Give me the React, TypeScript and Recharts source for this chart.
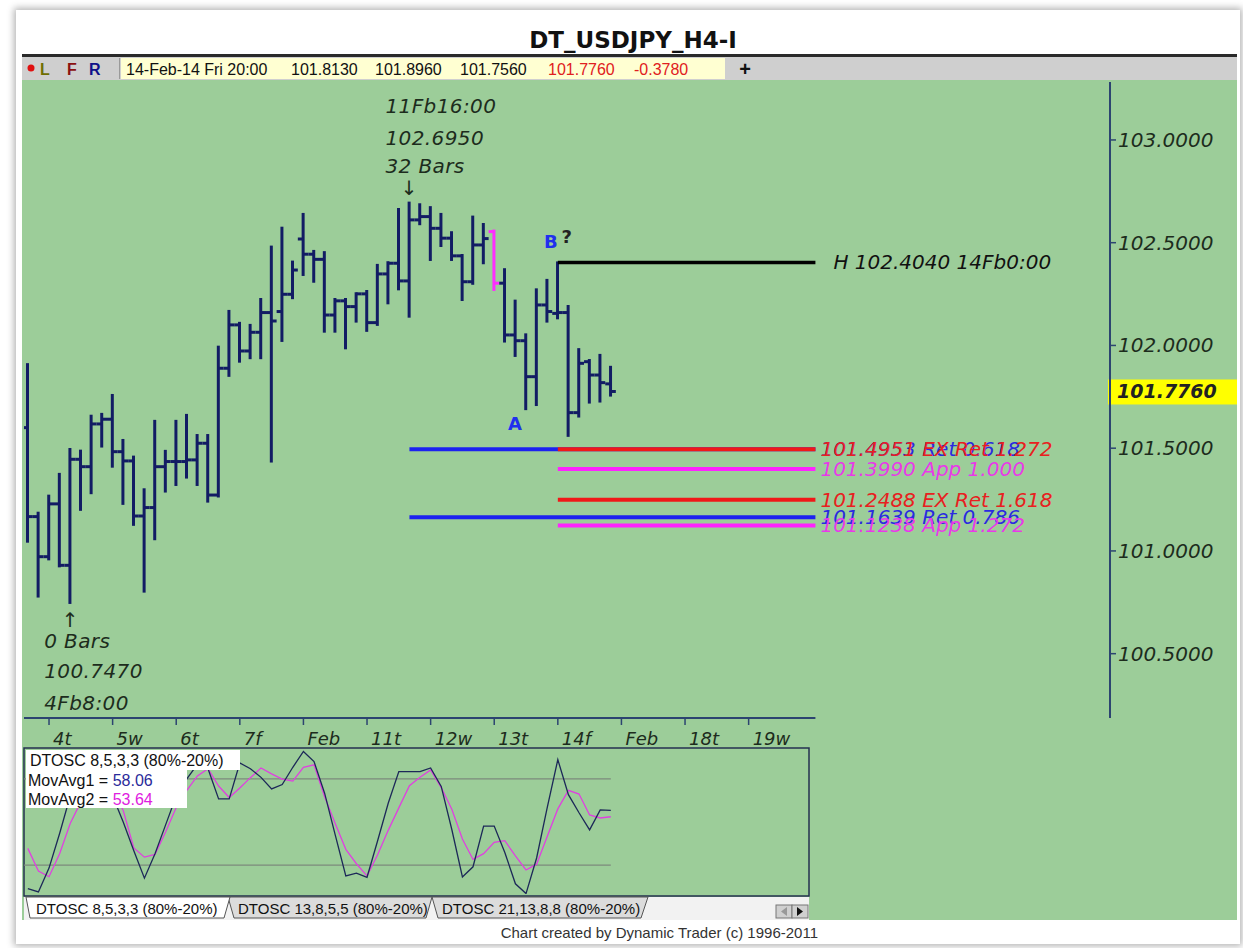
import {
	Bar,
	ComposedChart,
	Line,
	ReferenceDot,
	ReferenceLine,
	XAxis,
	YAxis,
} from 'recharts'

// 4H bars, 3-Feb 16:00 .. 14-Feb 20:00
const opens = [
	101.6, 101.167, 100.972, 101.229, 100.93, 101.446, 101.41, 101.618, 101.641, 101.483,
	101.438, 101.17, 101.211, 101.41, 101.435, 101.435, 101.443, 101.524, 101.272, 101.889,
	102.1, 101.973, 102.064, 102.16, 102.165, 102.249, 102.518, 102.444, 102.419, 102.148,
	102.217, 102.189, 102.251, 102.111, 102.348, 102.4, 102.314, 102.611, 102.627, 102.57,
	102.522, 102.436, 102.31, 102.489, 102.554, 102.303, 102.051, 102.023, 101.848, 102.197,
	102.156, 102.16, 101.673, 101.921, 101.856, 101.813,
]
const highs = [
	101.909, 101.186, 101.269, 101.375, 101.496, 101.488, 101.658, 101.667, 101.759, 101.54,
	101.459, 101.3, 101.633, 101.487, 101.633, 101.662, 101.564, 101.564, 101.994, 102.168,
	102.11, 102.1, 102.226, 102.481, 102.573, 102.408, 102.64, 102.46, 102.454, 102.226,
	102.226, 102.254, 102.265, 102.392, 102.405, 102.664, 102.695, 102.687, 102.673, 102.64,
	102.551, 102.44, 102.627, 102.591, 102.559, 102.371, 102.218, 102.054, 102.273, 102.319,
	102.404, 102.192, 101.982, 101.929, 101.954, 101.896,
]
const lows = [
	101.045, 100.778, 100.959, 100.925, 100.747, 101.2, 101.281, 101.508, 101.41, 101.229,
	101.127, 100.802, 101.057, 101.289, 101.321, 101.357, 101.321, 101.24, 101.265, 101.852,
	101.921, 101.938, 101.938, 101.435, 102.022, 102.23, 102.343, 102.31, 102.067, 102.067,
	101.986, 102.116, 102.071, 102.1, 102.205, 102.273, 102.14, 102.59, 102.416, 102.484,
	102.416, 102.221, 102.3, 102.4, 102.27, 102.019, 101.949, 101.69, 101.71, 102.116,
	102.132, 101.56, 101.654, 101.722, 101.727, 101.756,
]
const closes = [
	101.167, 100.972, 101.229, 100.93, 101.446, 101.41, 101.618, 101.641, 101.483, 101.438,
	101.17, 101.211, 101.41, 101.435, 101.435, 101.443, 101.524, 101.272, 101.889, 102.1,
	101.973, 102.064, 102.16, 102.119, 102.249, 102.367, 102.444, 102.419, 102.148, 102.217,
	102.189, 102.251, 102.111, 102.348, 102.4, 102.314, 102.611, 102.627, 102.57, 102.522,
	102.436, 102.31, 102.489, 102.52, 102.303, 102.051, 102.023, 101.848, 102.197, 102.165,
	102.16, 101.673, 101.913, 101.856, 101.819, 101.776,
]
const highlightBar = 44

// DTOSC 8,5,3,3
const oscFast = [
	3.8, 1.4, 18, 42, 68, 84, 93, 88, 68, 50, 30, 11, 28, 48, 68, 80, 90, 87, 66, 66,
	91, 87, 81, 73, 76, 88, 99, 92, 70, 41, 12.5, 14.5, 11.6, 37, 63, 85, 85, 85, 87.5, 74.7,
	44.8, 11.9, 18.9, 47.2, 47.2, 28.8, 7.1, 0.3, 25, 60, 93.3, 69, 56.4, 44.5, 58.4, 58.06,
]
const oscSlow = [
	31.7, 16, 12, 28, 49, 64, 78, 86, 72, 58, 32, 25.6, 27.5, 43, 60, 72, 82, 87, 75, 67,
	73.6, 80.8, 87.5, 83.4, 79.8, 78.4, 87.9, 89.7, 67.5, 49, 31, 21, 12.6, 27.3, 44.2, 59.8, 75.2, 81.1, 86.1, 73.9,
	58.8, 38.2, 24, 28, 35.9, 37, 26.5, 16.7, 20.7, 40, 59.1, 72, 69.4, 54.9, 52.8, 53.64,
]

const dayTicks = [2, 8, 14, 20, 26, 32, 38, 44, 50, 56, 62, 68]
const dayLabels = ['4t', '5w', '6t', '7f', 'Feb', '11t', '12w', '13t', '14f', 'Feb', '18t', '19w']
const priceTicks = [100.5, 101, 101.5, 102, 102.5, 103]

const levelPrices = [101.4953, 101.4951, 101.399, 101.2488, 101.1639, 101.1238, 102.404]
const levelStarts = [36, 50, 50, 50, 36, 50, 50]
const levelKinds = ['ret', 'ex', 'app', 'ex', 'ret', 'app', 'high']
const levelLabels = [
	'101.4953 Ret 0.618',
	'101.4951 EX Ret 1.272',
	'101.3990 App 1.000',
	'101.2488 EX Ret 1.618',
	'101.1639 Ret 0.786',
	'101.1238 App 1.272',
	'H 102.4040 14Fb0:00',
]
const lastPrice = 101.776
const projectionEnd = 74.3

const X_MIN = -0.36
const X_MAX = 102.09
const Y_MIN = 100.187
const Y_MAX = 103.282

const GREEN = '#9ccd99'
const NAVY = '#121c64'
const HAND = '"DejaVu Sans", sans-serif'
const UI = '"Liberation Sans", Arial, sans-serif'
const INK = '#1d2c1d'

const kindStyle: Record<string, { line: string; text: string; gap: number }> = {
	ret: { line: '#1c22f0', text: '#2a2ae0', gap: 5 },
	ex: { line: '#f01818', text: '#e82020', gap: 5 },
	app: { line: '#ff22ff', text: '#e83ae8', gap: 5 },
	high: { line: '#000000', text: '#111111', gap: 18 },
}

const barData = opens.map((o, i) => ({
	i,
	open: o,
	high: highs[i],
	low: lows[i],
	close: closes[i],
	range: [lows[i], highs[i]],
}))

const oscData = oscFast.map((v, i) => ({ i, fast: v, slow: oscSlow[i] }))

function OhlcBar(props: any) {
	const { x, y, width, height, payload, index } = props
	if (x == null || !payload) return null
	const top = Math.min(y, y + height)
	const h = Math.abs(height)
	const cx = x + width / 2
	const span = payload.high - payload.low || 1
	const yo = top + ((payload.high - payload.open) / span) * h
	const yc = top + ((payload.high - payload.close) / span) * h
	const color = index === highlightBar ? '#ff2cff' : NAVY
	return (
		<g stroke={color} strokeWidth={3}>
			<line x1={cx} x2={cx} y1={top - 1} y2={top + h + 1} />
			<line x1={cx - 5.3} x2={cx} y1={yo} y2={yo} />
			<line x1={cx} x2={cx + 5.3} y1={yc} y2={yc} />
		</g>
	)
}

function DayTick(props: any) {
	const { x, y, payload } = props
	const k = dayTicks.indexOf(payload.value)
	return (
		<text x={x + 4} y={y + 20} fontFamily={HAND} fontStyle="italic" fontSize={18} fill={INK}>
			{dayLabels[k]}
		</text>
	)
}

function PriceTick(props: any) {
	const { x, y, payload } = props
	return (
		<text x={x} y={y + 7} fontFamily={HAND} fontStyle="italic" fontSize={20} fill={INK}>
			{payload.value.toFixed(4)}
		</text>
	)
}

function levelLabel(k: number) {
	const st = kindStyle[levelKinds[k]]
	return (p: any) => {
		const vb = p.viewBox
		if (!vb) return null
		return (
			<text
				x={vb.x + vb.width + st.gap}
				y={vb.y + 7}
				fontFamily={HAND}
				fontStyle="italic"
				fontSize={20}
				fill={st.text}
			>
				{levelLabels[k]}
			</text>
		)
	}
}

function PriceBadge(p: any) {
	const vb = p.viewBox
	if (!vb) return null
	const x0 = vb.x + vb.width - 2
	return (
		<g>
			<rect x={x0} y={vb.y - 12} width={129} height={25} fill="#ffff00" />
			<text x={x0 + 9} y={vb.y + 7} fontFamily={HAND} fontStyle="italic" fontWeight={700} fontSize={19} fill="#222">
				{lastPrice.toFixed(4)}
			</text>
		</g>
	)
}

function HighNote(p: any) {
	const { cx, cy } = p
	return (
		<g fontFamily={HAND} fontStyle="italic" fontSize={20} fill={INK} letterSpacing={0.4}>
			<text x={cx - 24} y={cy - 90}>11Fb16:00</text>
			<text x={cx - 24} y={cy - 58}>{highs[36].toFixed(4)}</text>
			<text x={cx - 24} y={cy - 30}>32 Bars</text>
			<text x={cx} y={cy - 8} textAnchor="middle" fontStyle="normal" fontSize={20}>
				↓
			</text>
		</g>
	)
}

function LowNote(p: any) {
	const { cx, cy } = p
	return (
		<g fontFamily={HAND} fontStyle="italic" fontSize={20} fill={INK} letterSpacing={0.4}>
			<text x={cx} y={cy + 24} textAnchor="middle" fontStyle="normal" fontSize={20}>
				↑
			</text>
			<text x={cx - 26} y={cy + 45}>0 Bars</text>
			<text x={cx - 26} y={cy + 75}>{lows[4].toFixed(4)}</text>
			<text x={cx - 26} y={cy + 107}>4Fb8:00</text>
		</g>
	)
}

function PointA(p: any) {
	return (
		<text x={p.cx - 11} y={p.cy + 21} textAnchor="middle" fontFamily={HAND} fontWeight={700} fontSize={18} fill="#2030ee">
			A
		</text>
	)
}

function PointB(p: any) {
	return (
		<g fontFamily={HAND} fontWeight={700} fontSize={18}>
			<text x={p.cx - 7} y={p.cy - 14} textAnchor="middle" fill="#2030ee">
				B
			</text>
			<text x={p.cx + 9} y={p.cy - 19} textAnchor="middle" fill="#222">
				?
			</text>
		</g>
	)
}

function Chrome() {
	return (
		<svg width={1243} height={948} style={{ position: 'absolute', left: 0, top: 0 }}>
			<text x={633} y={48} textAnchor="middle" fontFamily={HAND} fontWeight={700} fontSize={23} fill="#111">
				DT_USDJPY_H4-I
			</text>
			<rect x={22} y={54} width={1215} height={3} fill="#2a2a2a" />
			<rect x={22} y={57} width={1215} height={23} fill="#cfcfcf" />
			<circle cx={31} cy={68} r={3.5} fill="#e01010" />
			<g fontFamily={UI} fontWeight={700} fontSize={16}>
				<text x={40} y={75} fill="#6e6e00">L</text>
				<text x={67} y={75} fill="#8a1010">F</text>
				<text x={89} y={75} fill="#10108a">R</text>
			</g>
			<rect x={119} y={58} width={1} height={21} fill="#9a9a9a" />
			<rect x={121} y={58} width={604} height={21} fill="#ffffd2" />
			<g fontFamily={UI} fontSize={16} fill="#111">
				<text x={126} y={75}>14-Feb-14 Fri 20:00</text>
				<text x={291} y={75}>{opens[55].toFixed(4)}</text>
				<text x={375} y={75}>{highs[55].toFixed(4)}</text>
				<text x={460} y={75}>{lows[55].toFixed(4)}</text>
				<text x={548} y={75} fill="#e02020">{closes[55].toFixed(4)}</text>
				<text x={634} y={75} fill="#e02020">-0.3780</text>
			</g>
			<text x={745} y={76} textAnchor="middle" fontFamily={UI} fontWeight={700} fontSize={20} fill="#111">
				+
			</text>
			<rect x={22} y={80} width={1215} height={840} fill={GREEN} />
			<rect x={24} y={748} width={785} height={148} fill="none" stroke="#243050" strokeWidth={1.5} />
			<rect x={24} y={897} width={785} height={23} fill="#f2f2f2" />
			<g fontFamily={UI} fontSize={15} fill="#111" stroke="#555" strokeWidth={1}>
				<polygon points="432,897 438,918 641,918 648,897" fill="#dcdcdc" />
				<polygon points="228,897 234,918 426,918 432,897" fill="#dcdcdc" />
				<polygon points="26,897 30,918 224,918 230,897" fill="#ffffff" />
			</g>
			<g fontFamily={UI} fontSize={15} fill="#111">
				<text x={36} y={914}>DTOSC 8,5,3,3 (80%-20%)</text>
				<text x={238} y={914}>DTOSC 13,8,5,5 (80%-20%)</text>
				<text x={442} y={914}>DTOSC 21,13,8,8 (80%-20%)</text>
			</g>
			<rect x={776} y={905} width={16} height={13} fill="#d0d0d0" stroke="#777" />
			<rect x={792} y={905} width={16} height={13} fill="#d0d0d0" stroke="#777" />
			<polygon points="787,907 787,916 781,911.5" fill="#999" />
			<polygon points="797,907 797,916 803,911.5" fill="#111" />
			<text x={818} y={938} textAnchor="end" fontFamily={UI} fontSize={15} fill="#333">
				Chart created by Dynamic Trader  (c) 1996-2011
			</text>
		</svg>
	)
}

function OscLegend() {
	return (
		<svg width={1243} height={948} style={{ position: 'absolute', left: 0, top: 0, pointerEvents: 'none' }}>
			<rect x={26} y={750} width={214} height={20} fill="#ffffff" />
			<rect x={26} y={770} width={161} height={38} fill="#ffffff" />
			<g fontFamily={UI} fontSize={16} fill="#111">
				<text x={30} y={766}>DTOSC 8,5,3,3 (80%-20%)</text>
				<text x={28} y={786}>
					MovAvg1 = <tspan fill="#2a2a9a">{oscFast[55].toFixed(2)}</tspan>
				</text>
				<text x={28} y={805}>
					MovAvg2 = <tspan fill="#e020e0">{oscSlow[55].toFixed(2)}</tspan>
				</text>
			</g>
		</svg>
	)
}

export default function App() {
	return (
		<div style={{ position: 'absolute', left: 0, top: 0, width: 1243, height: 948, background: '#fff', overflow: 'hidden' }}>
			<div
				style={{
					position: 'absolute',
					left: 16,
					top: 10,
					width: 1224,
					height: 934,
					background: '#fff',
					boxShadow: '0 0 7px 2px rgba(0,0,0,0.3)',
				}}
			/>
			<Chrome />
			<div style={{ position: 'absolute', left: 22, top: 80 }}>
				<ComposedChart width={1215} height={676} data={barData} margin={{ top: 2, right: 0, bottom: 8, left: 2 }}>
					<XAxis
						type="number"
						dataKey="i"
						domain={[X_MIN, X_MAX]}
						allowDataOverflow
						ticks={dayTicks}
						interval={0}
						axisLine={false}
						tickLine={{ stroke: '#2c4470', strokeWidth: 1.5 }}
						tickSize={7}
						tickMargin={0}
						height={30}
						tick={<DayTick />}
					/>
					<YAxis
						orientation="right"
						type="number"
						domain={[Y_MIN, Y_MAX]}
						allowDataOverflow
						ticks={priceTicks}
						interval={0}
						width={127}
						axisLine={{ stroke: '#2c4470', strokeWidth: 2 }}
						tickLine={{ stroke: '#2c4470', strokeWidth: 1.5 }}
						tickSize={6}
						tickMargin={2}
						tick={<PriceTick />}
					/>
					<ReferenceLine
						segment={[
							{ x: X_MIN, y: Y_MIN },
							{ x: projectionEnd, y: Y_MIN },
						]}
						stroke="#2c4470"
						strokeWidth={2}
						ifOverflow="visible"
					/>
					{levelPrices.map((p, k) => (
						<ReferenceLine
							key={k}
							segment={[
								{ x: levelStarts[k], y: p },
								{ x: projectionEnd, y: p },
							]}
							stroke={kindStyle[levelKinds[k]].line}
							strokeWidth={levelKinds[k] === 'high' ? 3.5 : 4}
							ifOverflow="visible"
							label={levelLabel(k)}
						/>
					))}
					<ReferenceLine y={lastPrice} strokeOpacity={0} label={PriceBadge} />
					<Bar dataKey="range" barSize={10} shape={OhlcBar} isAnimationActive={false} />
					<ReferenceDot x={36} y={highs[36]} r={0} shape={HighNote} />
					<ReferenceDot x={4} y={lows[4]} r={0} shape={LowNote} />
					<ReferenceDot x={47} y={lows[47]} r={0} shape={PointA} />
					<ReferenceDot x={50} y={highs[50]} r={0} shape={PointB} />
				</ComposedChart>
			</div>
			<div style={{ position: 'absolute', left: 24, top: 750 }}>
				<ComposedChart width={784} height={144} data={oscData} margin={{ top: 0, right: 0, bottom: 0, left: 0 }}>
					<XAxis type="number" dataKey="i" domain={[X_MIN, X_MIN + 784 / 10.6]} allowDataOverflow hide />
					<YAxis type="number" domain={[0, 100]} allowDataOverflow hide />
					<ReferenceLine segment={[{ x: X_MIN, y: 80 }, { x: 55, y: 80 }]} stroke="#7d8a7d" strokeWidth={1.2} />
					<ReferenceLine segment={[{ x: X_MIN, y: 20 }, { x: 55, y: 20 }]} stroke="#7d8a7d" strokeWidth={1.2} />
					<Line type="linear" dataKey="slow" stroke="#e040e0" strokeWidth={1.3} dot={false} isAnimationActive={false} />
					<Line type="linear" dataKey="fast" stroke="#1c2858" strokeWidth={1.3} dot={false} isAnimationActive={false} />
				</ComposedChart>
			</div>
			<OscLegend />
		</div>
	)
}
